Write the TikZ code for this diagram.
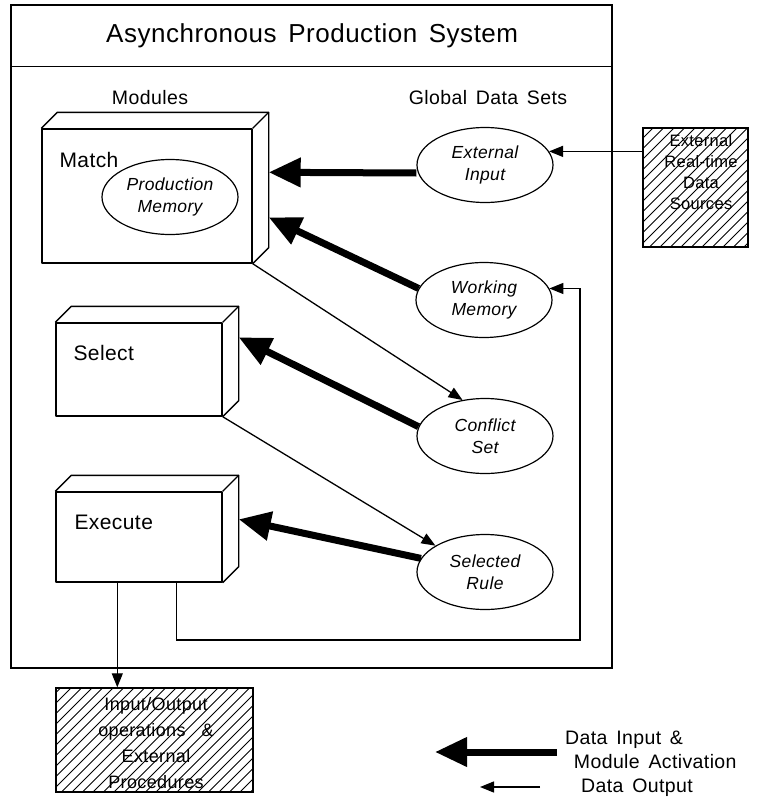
\documentclass[tikz,border=0pt]{standalone}
\usepackage{fontspec}
\setmainfont{Liberation Sans}[LetterSpace=2,WordSpace=1.5]
\usetikzlibrary{arrows.meta,shapes.geometric,calc}
\begin{document}
\begin{tikzpicture}[x=1pt,y=-1pt,
  frameline/.style={draw,line width=1.4pt},
  modbox/.style={draw,line width=1.4pt,line join=round},
  boxline/.style={line width=1.4pt,line join=round},
  modlabel/.style={anchor=west,font=\fontsize{21}{24}\selectfont},
  heading/.style={font=\fontsize{19.5}{22}\selectfont},
  dataset/.style={ellipse,draw,line width=1.2pt,minimum width=136pt,minimum height=75pt,
    inner sep=0pt,align=center,font=\itshape\fontsize{17.5}{22}\selectfont},
  strong/.style={line width=7pt,-{Triangle[length=32pt,width=28pt]}},
  weak/.style={line width=1.3pt,-{Triangle[length=14pt,width=11pt]}},
  hatch/.style={line width=0.9pt},
  hatchbox/.style={draw,line width=1.4pt,inner sep=0pt},
  hatchtext/.style={align=center,font=\fontsize{18}{26}\selectfont},
  legendtext/.style={anchor=west,align=left,inner sep=1pt,font=\fontsize{19.5}{23.5}\selectfont}]
\useasboundingbox (0,0) rectangle (766,798);

% outer system frame and its title band
\node[frameline,minimum width=601pt,minimum height=663pt,inner sep=0pt] (frame) at (311.5,336.5) {};
\node[frameline,minimum width=601pt,minimum height=61pt,inner sep=0pt,anchor=north west,
  font=\fontsize{26}{30}\selectfont] (title) at (11,5) {Asynchronous Production System};

\node[heading] (modhead) at (150,98) {Modules};
\node[heading] (gdshead) at (488,98) {Global Data Sets};

% module boxes (front faces)
\node[modbox,minimum width=210pt,minimum height=134pt] (match) at (147,196) {};
\node[modbox,minimum width=166pt,minimum height=93pt] (select) at (139,369.5) {};
\node[modbox,minimum width=166pt,minimum height=90pt] (execute) at (139,537) {};

% top and side faces of each module box
\foreach \b in {match,select,execute}{
  \draw[boxline] (\b.north west) -- ($(\b.north west)+(16,-16)$) -- ($(\b.north east)+(16,-16)$)
    -- ($(\b.south east)+(16,-16)$) -- (\b.south east);
  \draw[boxline] (\b.north east) -- ($(\b.north east)+(16,-16)$);
}

\node[modlabel] (matchlbl) at (56,160) {Match};
\node[modlabel] (selectlbl) at (70,353) {Select};
\node[modlabel] (executelbl) at (71,522) {Execute};

% global data sets
\node[dataset] (prodmem) at (170,197) {Production\\Memory};
\node[dataset] (extin) at (485,165) {External\\Input};
\node[dataset] (wm) at (484,300) {Working\\Memory};
\node[dataset] (cs) at (485,436) {Conflict\\Set};
\node[dataset] (sr) at (485,572) {Selected\\Rule};

% external hatched boxes
\node[hatchbox,minimum width=105pt,minimum height=119pt] (extsrc) at (695.5,187.5) {};
\node[hatchbox,minimum width=197pt,minimum height=104pt] (io) at (154.5,740) {};
\begin{scope}
  \clip (extsrc.north west) rectangle (extsrc.south east);
  \foreach \k in {0,...,24}
    \draw[hatch] ($(extsrc.south west)+(\k*10.5-130,0)$) -- ++(130,-130);
\end{scope}
\begin{scope}
  \clip (io.north west) rectangle (io.south east);
  \foreach \k in {0,...,30}
    \draw[hatch] ($(io.south west)+(\k*10.5-110,0)$) -- ++(110,-110);
\end{scope}
\node[hatchtext,font=\fontsize{16.5}{21}\selectfont] (extsrctxt) at (701,172) {External\\Real-time\\Data\\Sources};
\node[hatchtext] (iotxt) at (156,743) {Input/Output\\operations \ \&\\External\\Procedures};

% data input and module activation
\draw[strong] ([yshift=-8pt]extin.west) -- ($(match.north east)+(16,44)$);
\draw[strong] (wm.170) -- ($(match.north east)+(16,89)$);
\draw[strong] (cs.172) -- ($(select.north east)+(16,15)$);
\draw[strong] (sr.168) -- ($(execute.north east)+(16,28)$);

% data output
\draw[weak] (extsrc.west |- extin.12) -- (extin.12);
\draw[weak] (match.south east) -- (cs.122);
\draw[weak] (select.south east) -- (sr.152);
\draw[weak] ([xshift=62pt]execute.south west) -- ([xshift=62pt]io.north west);
\coordinate (loopcorner) at (580,640);
\draw[weak] ([xshift=121pt]execute.south west) |- (loopcorner) |- (wm.10);

% legend
\coordinate (lgAs) at (557,752);
\coordinate (lgAe) at (435,752);
\coordinate (lgBs) at (540,787);
\coordinate (lgBe) at (480,787);
\draw[strong] (lgAs) -- (lgAe);
\draw[weak] (lgBs) -- (lgBe);
\node[legendtext] (lgAtxt) at (564,750) {Data Input \&\\\ Module Activation};
\node[legendtext] (lgBtxt) at (580,788) {Data Output};
\end{tikzpicture}
\end{document}
